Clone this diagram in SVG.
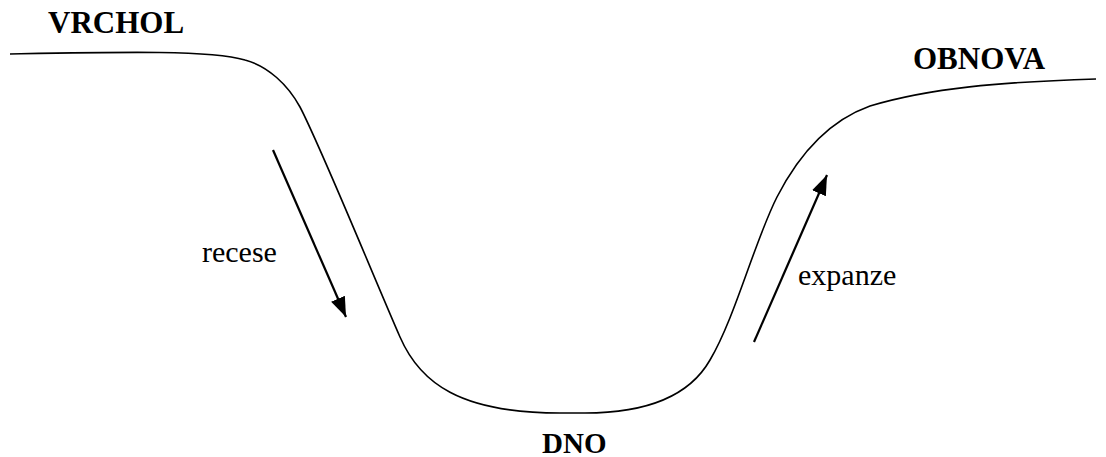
<svg xmlns="http://www.w3.org/2000/svg" width="1106" height="457" viewBox="0 0 1106 457">
<defs>
<style>
.lbl{font-family:"Liberation Serif","Times New Roman",serif;font-size:30px;fill:#000}
.b{font-weight:bold;font-size:31px}
.curve{fill:none;stroke:#000;stroke-width:1.6}
.arr{fill:none;stroke:#000;stroke-width:2.2}
</style>
<marker id="ah" markerUnits="userSpaceOnUse" markerWidth="20" markerHeight="20" viewBox="0 0 16 12" refX="16" refY="6" orient="auto">
<path d="M0,0 L16,6 L0,12 Z" fill="#000"/>
</marker>
</defs>
<g id="cycle-curve">
<path class="curve" d="M10,54 C120,52 210,50 245,60 C268,66 288,85 300,107 C320,145 375,280 400,337 C420,383 460,413 560,413 L585,413 C650,413 690,395 710,360 C735,318 755,240 777,197 C796,160 825,122 870,106 C930,88 1000,82 1096,79"/>
</g>
<g id="connectors">
<line class="arr" x1="273" y1="150" x2="346" y2="317" marker-end="url(#ah)"/>
<line class="arr" x1="754" y1="342" x2="827" y2="175" marker-end="url(#ah)"/>
</g>
<g id="vrchol"><text class="lbl b" x="48" y="33">VRCHOL</text></g>
<g id="obnova"><text class="lbl b" x="913" y="69">OBNOVA</text></g>
<g id="dno"><text class="lbl b" x="542" y="453" style="font-size:29px">DNO</text></g>
<g id="recese"><text class="lbl" x="202" y="262">recese</text></g>
<g id="expanze"><text class="lbl" x="798" y="285">expanze</text></g>
</svg>
